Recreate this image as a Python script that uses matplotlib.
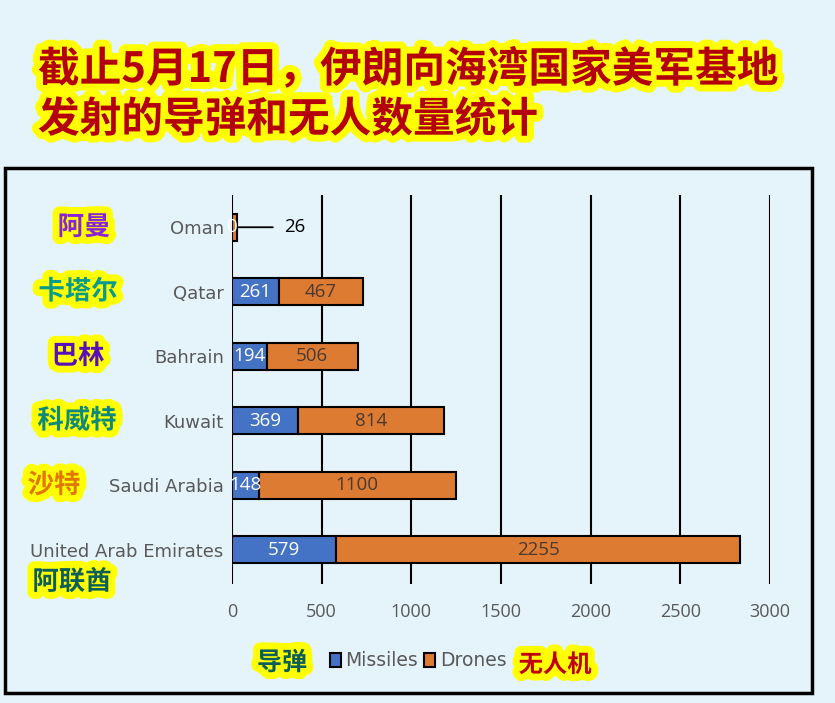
import matplotlib.pyplot as plt
import matplotlib.patheffects as pe
from matplotlib.patches import Rectangle
from matplotlib.transforms import blended_transform_factory

# data, bottom to top
countries = ['United Arab Emirates', 'Saudi Arabia', 'Kuwait', 'Bahrain', 'Qatar', 'Oman']
countries_cn = ['阿联酋', '沙特', '科威特', '巴林', '卡塔尔', '阿曼']
cn_colors = ['#0b5e5a', '#e07800', '#0f8a78', '#5a10b8', '#0a9a8c', '#8a22d8']
missiles = [579, 148, 369, 194, 261, 0]
drones = [2255, 1100, 814, 506, 467, 26]
xticks = [0, 500, 1000, 1500, 2000, 2500, 3000]

title_lines = ['截止5月17日，伊朗向海湾国家美军基地', '发射的导弹和无人数量统计']

bg = '#e4f4fa'
blue = '#4472c4'
orange = '#dd7b33'
cjk = ['Noto Sans CJK SC', 'DejaVu Sans']

plt.rcParams['font.family'] = ['Open Sans', 'DejaVu Sans']

fig = plt.figure(figsize=(8.35, 7.03), dpi=100, facecolor=bg)
W, H = 835, 703

# frame around chart
fig.add_artist(Rectangle((5 / W, 1 - 693 / H), 807 / W, 525 / H, transform=fig.transFigure,
                         fill=False, edgecolor='black', linewidth=2.5))

ax = fig.add_axes([232 / W, 1 - 584 / H, 538 / W, 389 / H])
ax.set_facecolor(bg)

y = list(range(len(countries)))
b1 = ax.barh(y, missiles, height=0.42, color=blue, edgecolor='black', linewidth=1.5, zorder=3)
b2 = ax.barh(y, drones, left=missiles, height=0.42, color=orange, edgecolor='black', linewidth=1.5, zorder=3)

ax.bar_label(b1, labels=[str(v) for v in missiles], label_type='center', color='white', fontsize=13.5, zorder=4)
ax.bar_label(b2, labels=[str(v) if v > 100 else '' for v in drones], label_type='center',
             color='#4a3a30', fontsize=13.5, zorder=4)

# small Oman value with leader line
i = countries.index('Oman')
ax.annotate(str(drones[i]), xy=(missiles[i] + drones[i], y[i]), xytext=(290, y[i]),
            ha='left', va='center', fontsize=13.5, color='black',
            arrowprops=dict(arrowstyle='-', color='black', lw=1.3, shrinkA=6, shrinkB=0))

ax.set_xlim(0, 3000)
ax.set_ylim(-0.53, 5.5)
ax.set_xticks(xticks)
ax.set_xticklabels([str(v) for v in xticks], fontsize=13, color='#595959')
ax.set_yticks(y)
ax.set_yticklabels(countries, fontsize=13, color='#595959', family='DejaVu Sans')
ax.tick_params(axis='both', length=0)
ax.tick_params(axis='x', pad=14)
ax.tick_params(axis='y', pad=6)
ax.grid(axis='x', color='black', linewidth=1.5, zorder=0)
for s in ax.spines.values():
    s.set_visible(False)

# Chinese country names
glow = [pe.Stroke(linewidth=10, foreground='#ffff00'), pe.Normal()]
trans = blended_transform_factory(fig.transFigure, ax.transData)
cn_x = [72, 54, 77, 78, 78, 84]
cn_dy = [-0.5, 0, 0, 0, 0, 0]
for k in range(len(countries_cn)):
    ax.text(cn_x[k] / W, y[k] + cn_dy[k], countries_cn[k], transform=trans, ha='center', va='center',
            fontsize=19, fontweight='bold', color=cn_colors[k], family=cjk, path_effects=glow)

# title
for n, line in enumerate(title_lines):
    fig.text(38 / W, 1 - (70 + 50 * n) / H, line, ha='left', va='center', fontsize=30,
             fontweight='bold', color='#b4000c', family=cjk,
             path_effects=[pe.Stroke(linewidth=10, foreground='#ffff00'), pe.Normal()])

# legend
fig.legend([Rectangle((0, 0), 1, 1, facecolor=blue, edgecolor='black', linewidth=1.5),
            Rectangle((0, 0), 1, 1, facecolor=orange, edgecolor='black', linewidth=1.5)],
           ['Missiles', 'Drones'], loc='center', bbox_to_anchor=(418 / W, 1 - 661 / H), ncol=2,
           frameon=False, prop={'family': 'DejaVu Sans', 'size': 13.5}, labelcolor='#595959',
           handlelength=0.6, handleheight=0.8, handletextpad=0.25, columnspacing=0.3)
fig.text(282 / W, 1 - 663 / H, '导弹', ha='center', va='center', fontsize=18, fontweight='bold',
         color='#0b5e5a', family=cjk, path_effects=glow)
fig.text(555 / W, 1 - 665 / H, '无人机', ha='center', va='center', fontsize=17.5, fontweight='bold',
         color='#c0000c', family=cjk, path_effects=glow)

fig.savefig('out.png', dpi=100, facecolor=bg)
